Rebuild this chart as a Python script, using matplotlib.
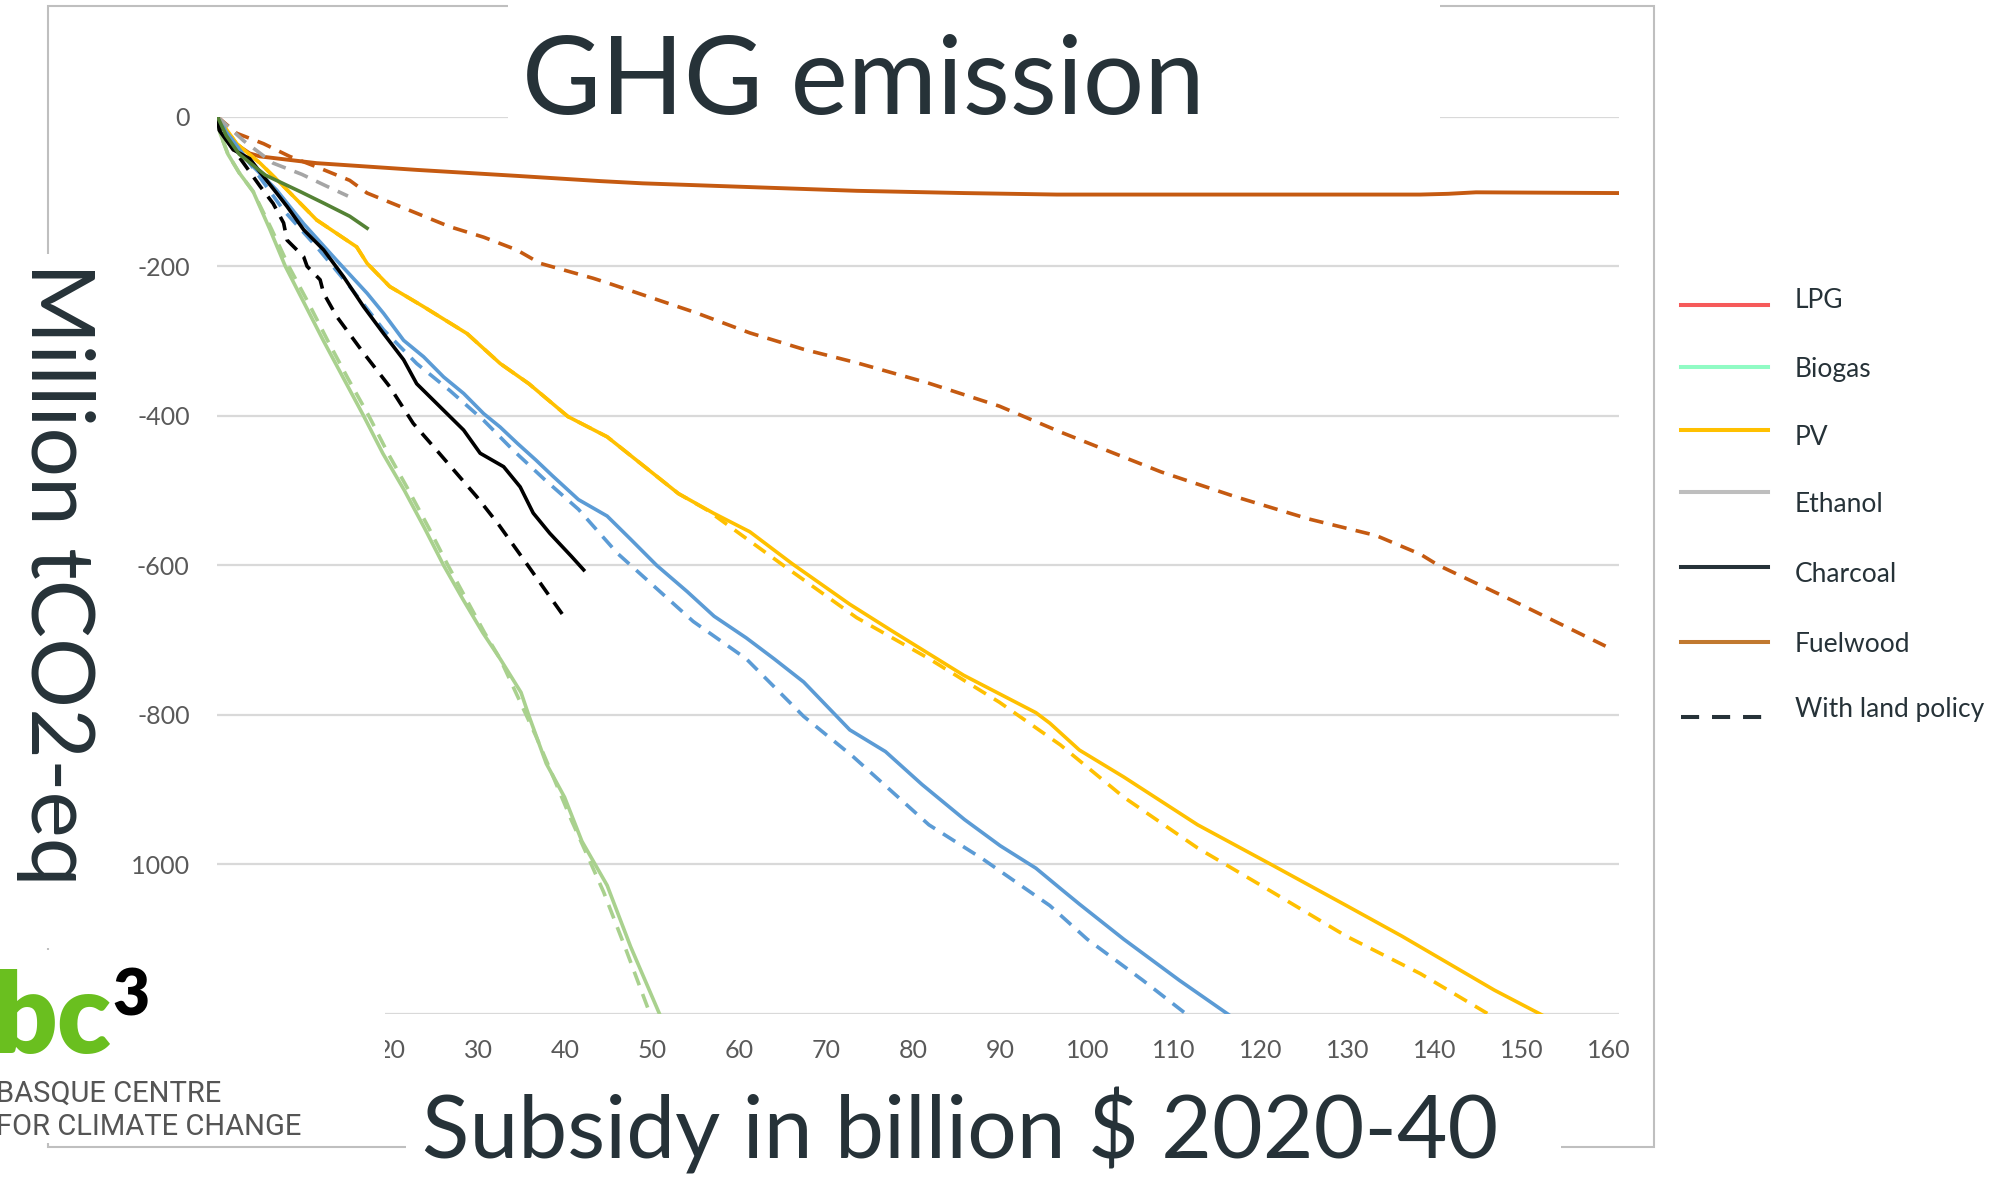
import matplotlib
matplotlib.use("Agg")
import matplotlib.pyplot as plt
from matplotlib.patches import Rectangle
from matplotlib.lines import Line2D

plt.rcParams['font.family'] = ['Lato', 'DejaVu Sans']

# ---- data (x: billion $, y: Mt CO2-eq) ----
fuelwood_x = [0, 1.4, 3.7, 4.9, 11.4, 22.9, 34.4, 44, 48.9, 61.2, 73.5, 85.8, 96.5, 120, 138.3, 141.5, 144.7, 161]
fuelwood_y = [0, -31, -49, -53, -62, -71, -79, -86, -89, -94, -99, -102, -104, -104, -104, -103, -101, -102]
fuelwood_lp_x = [0, 2.2, 5.3, 8.3, 11.4, 15.2, 17.2, 22.9, 26.7, 30.6, 34.4, 37.1, 43.2, 44.8, 55, 61.2, 67.4,
                 73.5, 81.7, 89.9, 97, 108.5, 117, 125.5, 133.2, 138.3, 140.4, 148.9, 159.6]
fuelwood_lp_y = [0, -22, -36, -53, -67, -85, -102, -129, -147, -161, -178, -196, -216, -222, -262, -289, -311,
                 -329, -356, -387, -422, -475, -508, -538, -560, -585, -600, -647, -708]

pv_x = [0, 2.2, 4.9, 7.6, 11.4, 16, 17.2, 19.8, 23.7, 28.7, 32.5, 35.8, 40.3, 44.8, 53, 57, 61.2, 66.1,
        72.7, 77.6, 85.8, 94.1, 95.7, 99.1, 104.2, 112.7, 121.3, 129.8, 136.2, 146.8, 152.4]
pv_y = [0, -36, -62, -93, -138, -174, -196, -227, -254, -290, -330, -357, -401, -428, -504, -530, -555, -598,
        -652, -688, -747, -797, -811, -847, -883, -947, -1001, -1055, -1096, -1168, -1202]
pv_lp_x = [0, 2.2, 4.9, 7.6, 11.4, 16, 17.2, 19.8, 23.7, 28.7, 32.5, 35.8, 40.3, 44.8, 53, 56.3, 65.3,
           73.5, 81.7, 89.9, 96.9, 104.2, 112.7, 121.3, 129.8, 138.3, 146.4]
pv_lp_y = [0, -36, -62, -93, -138, -174, -196, -227, -254, -290, -330, -357, -401, -428, -504, -526, -602,
           -670, -724, -783, -840, -910, -978, -1037, -1096, -1146, -1202]

lpg_x = [0, 1, 3.7, 6.8, 9.9, 13.7, 17.2, 19.1, 21.4, 23.7, 26, 28.3, 30.6, 32.5, 34.5, 36.6, 38.5, 41.5,
         44.8, 47.5, 50.5, 54, 57.1, 60.8, 64, 67.4, 72.7, 76.8, 81, 85.9, 90, 94.1, 96.9, 99.1, 104.2,
         110.6, 116.4]
lpg_y = [0, -20, -62, -98, -143, -192, -236, -263, -299, -321, -348, -370, -397, -415, -437, -459, -480,
         -512, -534, -565, -600, -635, -668, -697, -725, -756, -820, -849, -893, -940, -975, -1005, -1032,
         -1053, -1100, -1155, -1202]
lpg_lp_x = [0, 1, 3.7, 7.6, 11.4, 15.2, 19.1, 22.9, 26.7, 30.6, 34, 37.5, 41.5, 46, 54.7, 60.8, 67.4,
            73.1, 81.8, 87.9, 95.7, 100, 106.4, 111.6]
lpg_lp_y = [0, -20, -62, -125, -174, -227, -285, -330, -366, -406, -446, -484, -525, -584, -675, -725,
            -802, -856, -947, -992, -1055, -1100, -1155, -1202]

biogas_x = [0, 0.3, 1.2, 2.5, 4.1, 6, 7.8, 10, 12.2, 14.5, 16.8, 19, 21.5, 23.8, 26, 28.2, 30.5, 32.5,
            34.9, 35.8, 37.8, 39.9, 41.9, 44.8, 47.5, 50.9]
biogas_y = [0, -22, -50, -75, -100, -150, -200, -250, -300, -350, -400, -450, -500, -550, -600, -645,
            -690, -725, -770, -801, -865, -910, -969, -1028, -1110, -1202]
biogas_lp_x = [0, 0.3, 1.2, 2.5, 4.1, 6.2, 8.2, 10.5, 12.7, 15, 17.4, 19.6, 22, 24.3, 26.5, 28.6, 30.7,
               32.5, 34.5, 36.6, 38.5, 40.7, 42.6, 44.4, 47, 49.8]
biogas_lp_y = [0, -22, -50, -75, -100, -150, -200, -250, -300, -350, -400, -450, -500, -550, -600, -645,
               -690, -725, -775, -828, -880, -941, -990, -1037, -1115, -1202]

charcoal_x = [0, 0.2, 1.8, 3.7, 5.3, 6.8, 8, 9.9, 12.2, 14.5, 16.8, 19.1, 21.4, 22.9, 25.6, 28.3, 30.2,
              32.9, 34.8, 36.3, 38.2, 40.7, 42.1]
charcoal_y = [0, -18, -44, -56, -80, -102, -120, -151, -178, -214, -254, -290, -325, -357, -388, -419,
              -450, -468, -495, -530, -557, -588, -606]
charcoal_lp_x = [0, 0.5, 3, 4.9, 6.4, 7.6, 8, 9.9, 10.3, 11.8, 12.2, 13.7, 16.8, 19.8, 22.5, 25.2, 27.5,
                 29.8, 32.3, 35.5, 37.8, 40]
charcoal_lp_y = [0, -22, -62, -93, -116, -142, -165, -187, -200, -218, -236, -267, -316, -361, -410, -446,
                 -477, -508, -545, -597, -635, -671]

dgreen_x = [0, 1, 2.5, 5.5, 9.5, 12.3, 15.2, 17.2]
dgreen_y = [0, -25, -50, -78, -100, -116, -133, -149]

ethanol_lp_x = [0, 3, 6.4, 9.7, 12.4, 15]
ethanol_lp_y = [0, -32, -62, -77, -92, -106]

xticks = list(range(0, 161, 10))
yticks = list(range(-1200, 1, 200))

legend_labels = ['LPG', 'Biogas', 'PV', 'Ethanol', 'Charcoal', 'Fuelwood', 'With land policy']
legend_colors = ['#F65A5A', '#90FBC4', '#FFC000', '#BEBEBE', '#263238', '#C1792F', '#263238']

# ---- figure, laid out in pixel units of the 1990x1177 slide ----
W, H = 1990, 1177
fig = plt.figure(figsize=(W / 100, H / 100), dpi=100)


def fx(x):
    return x / W


def fy(y):
    return 1 - y / H


ax = fig.add_axes([fx(217.5), fy(1014), (1619.5 - 217.5) / W, (1014 - 116.8) / H])

dash = (0, (4, 2.6))
lw = 2.6
ax.plot(fuelwood_x, fuelwood_y, color='#C55A11', lw=2.8)
ax.plot(fuelwood_lp_x, fuelwood_lp_y, color='#C55A11', lw=lw, ls=dash)
ax.plot(pv_x, pv_y, color='#FFC000', lw=lw)
ax.plot(pv_lp_x, pv_lp_y, color='#FFC000', lw=lw, ls=dash)
ax.plot(lpg_x, lpg_y, color='#5B9BD5', lw=lw)
ax.plot(lpg_lp_x, lpg_lp_y, color='#5B9BD5', lw=lw, ls=dash)
ax.plot(biogas_x, biogas_y, color='#A9D18E', lw=lw)
ax.plot(biogas_lp_x, biogas_lp_y, color='#A9D18E', lw=lw, ls=dash)
ax.plot(ethanol_lp_x, ethanol_lp_y, color='#A5A5A5', lw=lw, ls=dash)
ax.plot(charcoal_x, charcoal_y, color='black', lw=lw)
ax.plot(charcoal_lp_x, charcoal_lp_y, color='black', lw=lw, ls=dash)
ax.plot(dgreen_x, dgreen_y, color='#548235', lw=lw)

ax.set_xlim(0, 161.2)
ax.set_ylim(-1200, 0)
ax.set_xticks(xticks)
ax.set_xticklabels([str(v) for v in xticks])
ax.set_yticks(yticks)
ax.set_yticklabels([str(v) for v in yticks])
ax.tick_params(length=0, labelsize=18, labelcolor='#595959')
ax.tick_params(axis='x', pad=18)
ax.tick_params(axis='y', pad=20)
ax.grid(axis='y', color='#D9D9D9', lw=1.6, zorder=0)
ax.set_axisbelow(True)
for s in ax.spines.values():
    s.set_visible(False)

# chart-area frame
fig.add_artist(Rectangle((fx(48), fy(1147)), (1654 - 48) / W, (1147 - 6) / H, transform=fig.transFigure,
                         fill=False, edgecolor='#BFBFBF', lw=1.5, zorder=1))


def white_box(x0, y0, x1, y1):
    fig.add_artist(Rectangle((fx(x0), fy(y1)), (x1 - x0) / W, (y1 - y0) / H, transform=fig.transFigure,
                             facecolor='white', edgecolor='none', zorder=2))


# text boxes pasted over the chart
white_box(508, 0, 1440, 126)
white_box(0, 254, 131, 948)
white_box(0, 950, 385, 1143)
white_box(406, 1078, 1561, 1177)

dark = '#263238'
fig.text(fx(863), fy(114), 'GHG emission', fontsize=78, color=dark, ha='center', va='baseline', zorder=3)
fig.text(fx(31), fy(574), 'Million tCO2-eq', fontsize=63, color=dark, rotation=270,
         rotation_mode='anchor', ha='center', va='baseline', zorder=3)
fig.text(fx(960), fy(1159), 'Subsidy in billion $ 2020-40', fontsize=63, color=dark,
         ha='center', va='baseline', zorder=3)

# logo
fig.text(fx(111), fy(1053), 'bc', fontsize=80, fontweight='heavy', color='#6ABF1F',
         ha='right', va='baseline', zorder=3)
fig.text(fx(112), fy(1015), '3', fontsize=46, fontweight='heavy', color='black',
         ha='left', va='baseline', zorder=3)
fig.text(fx(-4), fy(1102), 'BASQUE CENTRE', fontsize=21, color='#555555', family='Roboto',
         ha='left', va='baseline', zorder=3)
fig.text(fx(-4), fy(1135), 'FOR CLIMATE CHANGE', fontsize=21, color='#555555', family='Roboto',
         ha='left', va='baseline', zorder=3)

# legend
line_y = [305, 367, 430, 492, 567, 642, 717]
text_y = [299, 367, 435, 503, 572, 642, 708]
for i, (lab, col) in enumerate(zip(legend_labels, legend_colors)):
    style = (0, (4.5, 3.2)) if lab == 'With land policy' else '-'
    fig.add_artist(Line2D([fx(1681), fx(1768)], [fy(line_y[i]), fy(line_y[i])],
                          transform=fig.transFigure, color=col, lw=2.9, ls=style))
    fig.text(fx(1795), fy(text_y[i] + 9.5), lab, fontsize=19, color=dark, ha='left', va='baseline')

fig.savefig('out.png', dpi=100, facecolor='white')
